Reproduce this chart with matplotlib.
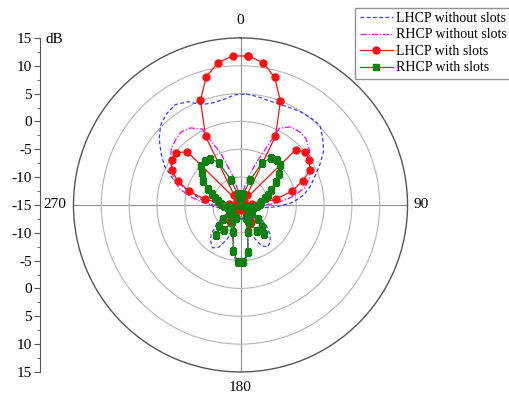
import numpy as np
import matplotlib
matplotlib.use("Agg")
from matplotlib import pyplot as plt
from matplotlib.ticker import FixedLocator

plt.rcParams['font.family'] = ['Liberation Serif', 'DejaVu Serif']

# angles of the measured points (deg), clockwise from top
theta_deg = np.arange(3, 360, 6)

# values in dB (3, 9, ..., 357 deg)
lhcp_no_slots = [4.95, 4.7, 4.4, 4.4, 4.6, 4.9, 5.1, 5.2, 4.0, 2.8,
                 1.0, -0.7, -2.0, -3.5, -5.5, -8.5, -11.5, -13.5, -14.0, -13.0,
                 -11.0, -9.0, -7.5, -6.5, -6.0, -6.8, -9.0, -11.5, -12.5, -12.5,
                 -12.5, -12.5, -11.5, -8.5, -6.5, -5.8, -6.5, -7.5, -9.5, -11.5,
                 -13.0, -14.0, -13.0, -11.5, -10.0, -9.5, -7.5, -5.3, -2.0, 0.3,
                 2.0, 3.8, 5.3, 6.1, 6.5, 5.8, 4.3, 4.0, 4.2, 4.8]

rhcp_no_slots = [-14.5, -13.0, -10.0, -6.5, 0.5, 1.7, 1.9, 1.7, 0.9, -0.1,
                 -1.0, -1.8, -3.0, -5.5, -8.5, -11.5, -13.5, -14.5, -14.5, -14.0,
                 -13.0, -12.0, -11.5, -12.0, -13.0, -13.5, -12.0, -9.5, -6.5, -4.0,
                 -4.0, -6.5, -9.5, -12.0, -13.5, -13.0, -12.0, -11.5, -12.0, -13.0,
                 -14.0, -14.5, -14.5, -13.5, -11.0, -8.5, -6.0, -3.6, -2.2, -1.1,
                 0.0, 1.0, 1.5, 1.9, 1.5, 0.3, -5.0, -9.5, -12.5, -14.5]

lhcp_slots = [11.8, 10.9, 8.7, 5.0, -1.2, -12.9, -14.0, -1.0, 0.0, -0.3,
              -1.0, -3.0, -5.5, -8.6, -13.0, -14.0, -14.5, -14.5, -14.5, -14.5,
              -14.5, -14.5, -14.0, -12.8, -11.4, -11.2, -12.5, -14.0, -14.5, -14.5,
              -14.5, -14.5, -14.0, -12.6, -11.3, -11.5, -12.8, -14.0, -14.5, -14.5,
              -14.5, -14.5, -14.5, -14.5, -14.0, -13.0, -8.5, -5.4, -2.9, -1.1,
              -0.3, -0.1, -1.5, -14.0, -12.9, -1.2, 5.1, 8.8, 10.9, 11.8]

rhcp_slots = [-15.0, -14.5, -13.0, -10.2, -6.6, -4.9, -4.7, -4.9, -6.1, -7.5,
              -8.9, -9.8, -10.5, -11.2, -11.5, -12.0, -12.6, -13.2, -13.8, -13.5,
              -12.5, -11.0, -9.5, -8.2, -9.5, -11.5, -12.5, -10.0, -6.5, -4.8,
              -4.8, -6.6, -10.0, -12.5, -11.5, -9.6, -8.0, -9.6, -11.0, -12.5,
              -13.5, -13.3, -13.0, -12.5, -12.0, -11.4, -10.9, -10.2, -9.6, -8.5,
              -7.0, -6.0, -5.0, -4.9, -5.1, -6.5, -10.2, -13.0, -14.5, -15.0]

angle_labels = ['0', '90', '180', '270']
angle_label_pos = [0, 90, 180, 270]
angle_label_r = [18.2, 17.4, 17.7, 18.3]

left_ticks = np.arange(-30, 31, 5)

fig = plt.figure(figsize=(5.1, 3.93), dpi=100)
ax = fig.add_axes([0.1441, 0.0535, 0.655, 0.85], projection='polar')
ax.set_theta_zero_location('N')
ax.set_theta_direction(-1)
ax.set_rlim(-15, 15)

th = np.deg2rad(np.append(theta_deg, theta_deg[0]))


def closed(v):
    return np.append(v, v[0])


ax.plot(th, closed(lhcp_no_slots), color='#3a3aff', ls=(0, (3, 2)), lw=0.9,
        label='LHCP without slots')
ax.plot(th, closed(rhcp_no_slots), color='#ff00ff', ls=(0, (5, 1.5, 1, 1.5)), lw=0.9,
        label='RHCP without slots')
ax.plot(th, closed(lhcp_slots), color='#ff1010', lw=0.9, marker='o', ms=5,
        label='LHCP with slots')
ax.plot(th, closed(rhcp_slots), color='#108010', lw=0.9, marker='s', ms=4.5,
        label='RHCP with slots')

ax.set_rgrids([-10, -5, 0, 5, 10], labels=[''] * 5)
ax.set_thetagrids(angle_label_pos, labels=[''] * 4)
ax.xaxis.set_minor_locator(FixedLocator(np.deg2rad([45, 135, 225, 315])))
ax.tick_params(axis='x', which='major', direction='out', length=5,
               color='#555555', width=0.8)
ax.tick_params(axis='x', which='minor', direction='in', length=3,
               color='#555555', width=0.8)
ax.grid(True, color='#b5b5b5', lw=0.8)
ax.xaxis.grid(True, color='#909090', lw=0.8)
ax.spines['polar'].set_color('#555555')
ax.spines['polar'].set_linewidth(1.0)

# angle labels placed just outside the outer circle
for lab, a, r in zip(angle_labels, angle_label_pos, angle_label_r):
    ax.text(np.deg2rad(a), r, lab, fontsize=11, ha='center', va='center',
            clip_on=False)

# the dB scale at the left, Origin style
lax = fig.add_axes([0.0784, 0.0535, 0.001, 0.85])
lax.set_ylim(-30, 30)
lax.set_xticks([])
for s in ['top', 'right', 'bottom']:
    lax.spines[s].set_visible(False)
lax.spines['left'].set_color('#555555')
lax.set_yticks(left_ticks)
lax.set_yticklabels([str(abs(int(t)) - 15) for t in left_ticks], fontsize=11)
lax.set_yticks(np.arange(-27.5, 30, 5), minor=True)
lax.tick_params(axis='y', which='major', length=4, color='#555555', pad=2)
lax.tick_params(axis='y', which='minor', length=2, color='#555555')
lax.patch.set_visible(False)
fig.text(0.09, 0.9, 'dB', fontsize=11, va='center', ha='left')

leg = ax.legend(loc='upper left', bbox_to_anchor=(0.697, 0.98),
                bbox_transform=fig.transFigure, fontsize=10, frameon=True,
                fancybox=False, handlelength=2.4, handletextpad=0.2,
                labelspacing=0.25, borderpad=0.3, borderaxespad=0)
leg.get_frame().set_edgecolor('#777777')
leg.get_frame().set_linewidth(1.0)

fig.savefig('out.png', dpi=100)
